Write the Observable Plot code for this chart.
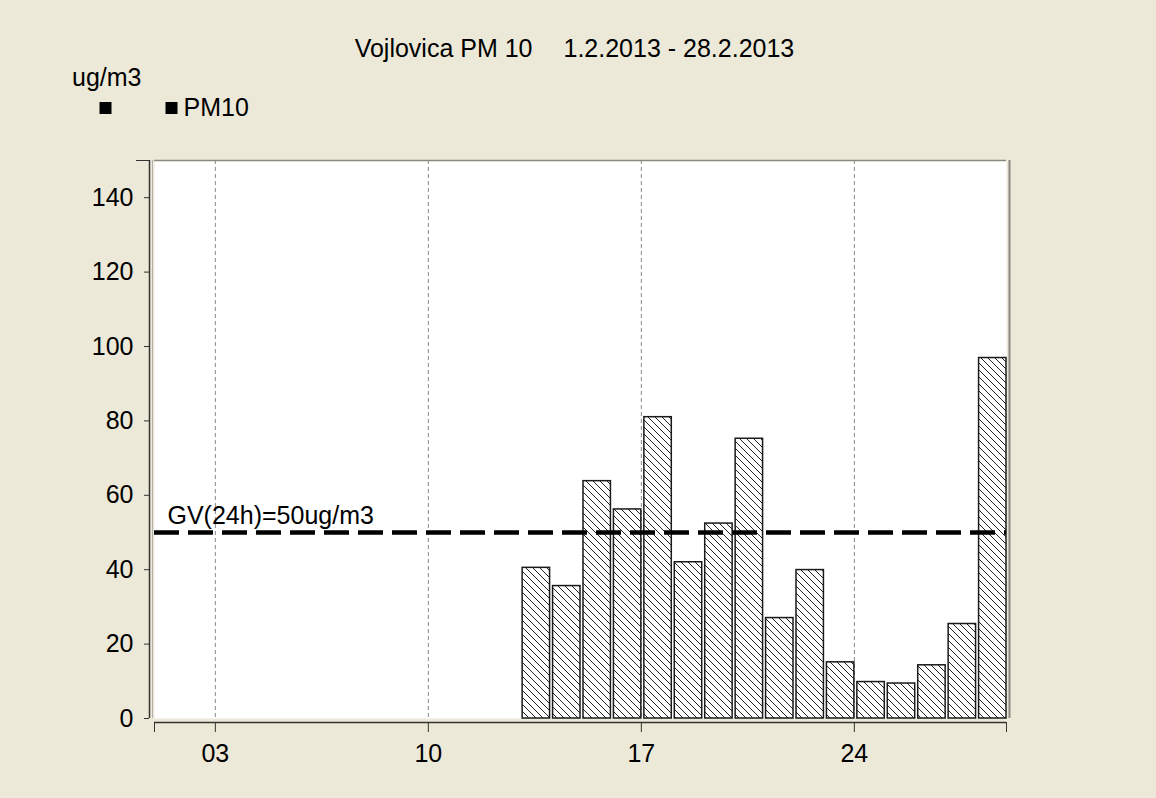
<!DOCTYPE html>
<html>
<head>
<meta charset="utf-8">
<script src="https://cdn.jsdelivr.net/npm/d3@7"></script>
<script src="https://cdn.jsdelivr.net/npm/@observablehq/plot@0.6"></script>
<style>
  html, body { margin: 0; padding: 0; background: #ECE9D8; }
  #chart { width: 1156px; height: 798px; }
</style>
</head>
<body>
<div id="chart"></div>
<script>
// Data (February 2013, daily PM10 in ug/m3)
const days = [13, 14, 15, 16, 17, 18, 19, 20, 21, 22, 23, 24, 25, 26, 27, 28];
const pm10 = [40.5, 35.6, 63.8, 56.2, 81, 42, 52.4, 75.2, 27, 39.9, 15.1, 9.8, 9.4, 14.3, 25.4, 96.9];
const tickDays = [3, 10, 17, 24];
const yTicks = [0, 20, 40, 60, 80, 100, 120, 140];
const limitValue = 50;
const limitLabel = "GV(24h)=50ug/m3";
const titleLeft = "Vojlovica PM 10";
const titleRight = "1.2.2013 - 28.2.2013";
const unitLabel = "ug/m3";
const seriesName = "PM10";

const data = days.map((d, i) => ({day: d, value: pm10[i]}));
const FS = 25;

const hatchDefs = () => {
  const defs = d3.create("svg:defs");
  const p = defs.append("pattern")
    .attr("id", "hatch")
    .attr("patternUnits", "userSpaceOnUse")
    .attr("width", 7).attr("height", 7);
  p.append("rect").attr("width", 7).attr("height", 7).attr("fill", "white");
  p.append("path")
    .attr("d", "M0,0L7,7M-1,6L1,8M6,-1L8,1")
    .attr("stroke", "#222").attr("stroke-width", 1);
  return defs.node();
};

const chart = Plot.plot({
  width: 1156,
  height: 798,
  marginLeft: 154,
  marginRight: 150,
  marginTop: 160,
  marginBottom: 80,
  style: {background: "#ECE9D8", fontFamily: "'Liberation Sans', Arial, sans-serif", fontSize: FS + "px", color: "black"},
  x: {domain: [1, 29], axis: null, label: null},
  y: {domain: [0, 150], axis: null, label: null},
  marks: [
    hatchDefs,
    Plot.frame({fill: "white", stroke: null}),
    // frame borders
    Plot.ruleY([150], {stroke: "#8a8a80", strokeWidth: 1.5}),
    Plot.ruleX([29], {stroke: "#8a8a80", strokeWidth: 2, dx: 3}),
    Plot.ruleX([1], {stroke: "#b0b0a8", strokeWidth: 1, dx: -2}),
    // vertical dotted grid
    Plot.ruleX(tickDays, {stroke: "#888", strokeWidth: 1, strokeDasharray: "4,3"}),
    // bars
    Plot.rectY(data, {
      x1: "day",
      x2: d => d.day + 1,
      y: "value",
      insetLeft: 3,
      insetRight: 0,
      fill: "url(#hatch)",
      stroke: "#1a1a1a",
      strokeWidth: 1.5
    }),
    // limit line
    Plot.ruleY([limitValue], {stroke: "black", strokeWidth: 4.5, strokeDasharray: "25,9"}),
    Plot.text([limitLabel], {x: 1, y: limitValue, dx: 13, dy: -17, textAnchor: "start", lineAnchor: "middle", fontSize: FS, fill: "black"}),
    // y axis
    Plot.ruleX([1], {stroke: "#333", strokeWidth: 1.5, dx: -5}),
    Plot.axisY({ticks: yTicks, tickSize: 5, tickPadding: 11, dx: -5, fontSize: FS, stroke: "#333", label: null, tickFormat: d => String(d)}),
    Plot.axisY({ticks: [150], tickSize: 13, dx: -5, label: null, tickFormat: () => "", stroke: "#333"}),
    // x axis
    Plot.ruleY([0], {stroke: "#333", strokeWidth: 1.5, dy: 4}),
    Plot.axisX({ticks: [1, ...tickDays, 29], tickSize: 10, tickPadding: 12, dy: 4, fontSize: FS, stroke: "#333", label: null,
      tickFormat: d => (d === 1 || d === 29) ? "" : String(d).padStart(2, "0")}),
    // title
    Plot.text([titleLeft], {frameAnchor: "top-left", dx: 378, dy: -112, textAnchor: "end", lineAnchor: "middle", fontSize: FS, fill: "black"}),
    Plot.text([titleRight], {frameAnchor: "top-left", dx: 409, dy: -112, textAnchor: "start", lineAnchor: "middle", fontSize: FS, fill: "black"}),
    // unit label
    Plot.text([unitLabel], {frameAnchor: "top-left", dx: -82.5, dy: -83, textAnchor: "start", lineAnchor: "middle", fontSize: FS, fill: "black"}),
    // legend
    Plot.dot([0], {frameAnchor: "top-left", dx: -49, dy: -52.5, symbol: "square", r: 6.77, fill: "black", stroke: null}),
    Plot.dot([0], {frameAnchor: "top-left", dx: 17, dy: -52.5, symbol: "square", r: 6.77, fill: "black", stroke: null}),
    Plot.text([seriesName], {frameAnchor: "top-left", dx: 29, dy: -53, textAnchor: "start", lineAnchor: "middle", fontSize: FS, fill: "black"})
  ]
});

document.getElementById("chart").appendChild(chart);
</script>
</body>
</html>
